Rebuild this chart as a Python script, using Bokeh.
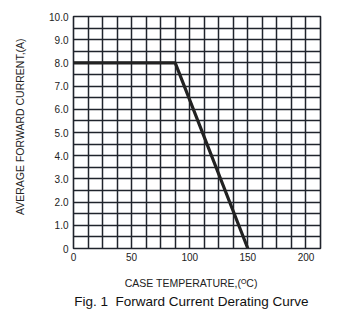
from bokeh.plotting import figure
from bokeh.models import FixedTicker, Range1d, Title
from bokeh.embed import file_html
from bokeh.resources import INLINE

# data
case_temp = [0, 87.5, 150]
fwd_current = [8.0, 8.0, 0.0]
x_ticks = [0, 50, 100, 150, 200]
y_ticks = [0, 1, 2, 3, 4, 5, 6, 7, 8, 9, 10]
y_tick_labels = ["0", "1.0", "2.0", "3.0", "4.0", "5.0", "6.0", "7.0", "8.0", "9.0", "10.0"]
x_grid_step = 12.5
y_grid_step = 0.5
x_max = 212.5
y_max = 10.0
x_title = "CASE TEMPERATURE,(\u1d3cC)"
y_title = "AVERAGE FORWARD CURRENT,(A)"
caption = "Fig. 1\u00a0 Forward Current Derating Curve"

FONT = "Liberation Sans"
DARK = "#20242c"
NB = "\u00a0"

p = figure(width=361, height=324, output_backend="svg", toolbar_location=None,
           x_range=Range1d(0, x_max), y_range=Range1d(0, y_max),
           min_border_left=73, min_border_right=41, min_border_top=16, min_border_bottom=76)
p.background_fill_color = "white"
p.border_fill_color = "white"
p.outline_line_color = DARK
p.outline_line_width = 1.6

xg = [i * x_grid_step for i in range(int(x_max / x_grid_step) + 1)]
yg = [i * y_grid_step for i in range(int(y_max / y_grid_step) + 1)]
p.xgrid.ticker = FixedTicker(ticks=xg)
p.ygrid.ticker = FixedTicker(ticks=yg)
for g in (p.xgrid, p.ygrid):
    g.grid_line_color = DARK
    g.grid_line_width = 1.5
    g.grid_line_alpha = 1.0

p.xaxis.ticker = FixedTicker(ticks=x_ticks)
p.yaxis.ticker = FixedTicker(ticks=y_ticks)
p.yaxis.major_label_overrides = {t: l for t, l in zip(y_ticks, y_tick_labels)}
for ax in (p.xaxis, p.yaxis):
    ax.axis_line_color = None
    ax.major_tick_line_color = None
    ax.minor_tick_line_color = None
    ax.major_tick_in = 0
    ax.major_tick_out = 0
    ax.major_label_text_font = FONT
    ax.major_label_text_font_size = "10px"
    ax.major_label_text_color = "#222"
    ax.axis_label_text_font = FONT
    ax.axis_label_text_font_style = "normal"
    ax.axis_label_text_color = "#222"
    ax.axis_label_text_font_size = "10.5px"
p.xaxis.major_label_standoff = 4
p.yaxis.major_label_standoff = 5
p.xaxis.axis_label = x_title + NB * 4
p.yaxis.axis_label = NB * 4 + y_title
p.yaxis.axis_label_standoff = 20
p.xaxis.axis_label_standoff = 13

cap = Title(text=caption + NB * 3, align="center", text_font=FONT, text_font_size="13.5px",
            text_font_style="normal", text_color="#111", standoff=0)
p.add_layout(cap, "below")

p.line(case_temp, fwd_current, line_color="#222", line_width=3.2)

open("out.html", "w").write(file_html(p, INLINE))
